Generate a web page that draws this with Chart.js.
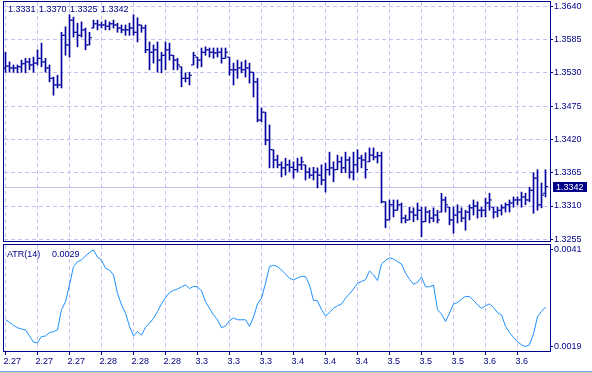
<!DOCTYPE html>
<html>
<head>
<meta charset="utf-8">
<script src="https://cdn.jsdelivr.net/npm/chart.js@4.4.0/dist/chart.umd.min.js"></script>
<style>
  html, body { margin: 0; padding: 0; background: #fff; }
  #wrap { position: relative; width: 592px; height: 373px; overflow: hidden; }
  canvas { position: absolute; left: 0; }
  #priceCanvas { top: 0; }
  #atrCanvas { top: 243px; }
</style>
</head>
<body>
<div id="wrap">
  <canvas id="priceCanvas" width="592" height="243"></canvas>
  <canvas id="atrCanvas" width="592" height="130"></canvas>
</div>
<script>
// Time axis: labels every 8 bars
const dateLabels = ['2.27','2.27','2.27','2.28','2.28','2.28','3.3','3.3','3.3','3.4','3.4','3.4','3.5','3.5','3.5','3.6','3.6'];
const dateTickBars = [0, 8, 16, 24, 32, 40, 48, 56, 64, 72, 80, 88, 96, 104, 112, 120, 128];

// Price scale and ATR scale ticks
const priceTicks = [1.3640, 1.3585, 1.3530, 1.3475, 1.3420, 1.3365, 1.3310, 1.3255];
const atrTicks = [0.0041, 0.0019];
const atrTitle = 'ATR(14)';
const atrValueText = '0.0029';

// OHLC bars
const opens = [
  1.3538,1.3541,1.3538,1.3538,1.3540,1.3545,1.3548,1.3543,1.3546,1.3554,
  1.3548,1.3538,1.3521,1.3510,1.3510,1.3592,1.3576,1.3617,1.3597,1.3592,
  1.3601,1.3576,1.3604,1.3611,1.3609,1.3609,1.3607,1.3611,1.3609,1.3604,
  1.3601,1.3601,1.3604,1.3597,1.3609,1.3604,1.3568,1.3564,1.3568,1.3551,
  1.3559,1.3568,1.3559,1.3551,1.3540,1.3521,1.3521,1.3543,1.3556,1.3551,
  1.3564,1.3568,1.3564,1.3563,1.3564,1.3554,1.3556,1.3535,1.3535,1.3538,
  1.3535,1.3538,1.3531,1.3515,1.3452,1.3465,1.3419,1.3403,1.3386,1.3378,
  1.3373,1.3378,1.3374,1.3370,1.3378,1.3378,1.3366,1.3361,1.3366,1.3361,
  1.3353,1.3370,1.3373,1.3370,1.3383,1.3373,1.3386,1.3366,1.3378,1.3389,
  1.3386,1.3383,1.3394,1.3391,1.3393,1.3317,1.3287,1.3312,1.3303,1.3312,
  1.3290,1.3287,1.3300,1.3295,1.3303,1.3284,1.3300,1.3290,1.3295,1.3300,
  1.3320,1.3308,1.3287,1.3295,1.3300,1.3290,1.3300,1.3307,1.3310,1.3303,
  1.3303,1.3315,1.3308,1.3300,1.3303,1.3307,1.3312,1.3315,1.3320,1.3320,
  1.3325,1.3320,1.3336,1.3356,1.3312,1.3331];
const highs = [
  1.3564,1.3548,1.3543,1.3543,1.3551,1.3554,1.3554,1.3556,1.3568,1.3579,
  1.3554,1.3543,1.3523,1.3526,1.3597,1.3606,1.3626,1.3622,1.3612,1.3614,
  1.3604,1.3597,1.3617,1.3617,1.3614,1.3617,1.3614,1.3617,1.3612,1.3609,
  1.3609,1.3612,1.3626,1.3621,1.3609,1.3609,1.3581,1.3576,1.3581,1.3564,
  1.3581,1.3579,1.3559,1.3554,1.3540,1.3530,1.3531,1.3564,1.3556,1.3571,
  1.3573,1.3571,1.3571,1.3571,1.3571,1.3571,1.3556,1.3546,1.3551,1.3548,
  1.3551,1.3546,1.3531,1.3521,1.3472,1.3465,1.3444,1.3403,1.3394,1.3383,
  1.3389,1.3386,1.3383,1.3389,1.3391,1.3378,1.3373,1.3374,1.3373,1.3378,
  1.3381,1.3399,1.3383,1.3394,1.3391,1.3399,1.3391,1.3399,1.3403,1.3394,
  1.3398,1.3406,1.3406,1.3399,1.3399,1.3317,1.3320,1.3320,1.3320,1.3315,
  1.3295,1.3308,1.3307,1.3315,1.3308,1.3308,1.3303,1.3307,1.3303,1.3331,
  1.3325,1.3308,1.3308,1.3312,1.3307,1.3303,1.3312,1.3320,1.3317,1.3308,
  1.3323,1.3331,1.3308,1.3308,1.3312,1.3315,1.3320,1.3325,1.3325,1.3333,
  1.3331,1.3341,1.3365,1.3370,1.3348,1.3370];
const lows = [
  1.3531,1.3531,1.3531,1.3530,1.3531,1.3530,1.3535,1.3531,1.3543,1.3540,
  1.3531,1.3515,1.3493,1.3505,1.3505,1.3559,1.3556,1.3589,1.3573,1.3589,
  1.3568,1.3576,1.3604,1.3601,1.3604,1.3601,1.3601,1.3604,1.3597,1.3596,
  1.3592,1.3592,1.3592,1.3581,1.3597,1.3563,1.3535,1.3546,1.3531,1.3530,
  1.3535,1.3551,1.3535,1.3535,1.3507,1.3515,1.3510,1.3543,1.3538,1.3540,
  1.3559,1.3556,1.3554,1.3556,1.3546,1.3554,1.3526,1.3510,1.3521,1.3530,
  1.3523,1.3513,1.3490,1.3449,1.3449,1.3411,1.3373,1.3373,1.3373,1.3358,
  1.3361,1.3366,1.3356,1.3366,1.3370,1.3353,1.3356,1.3353,1.3340,1.3345,
  1.3333,1.3361,1.3350,1.3370,1.3365,1.3365,1.3356,1.3353,1.3366,1.3373,
  1.3356,1.3383,1.3386,1.3381,1.3315,1.3274,1.3287,1.3292,1.3303,1.3282,
  1.3282,1.3287,1.3284,1.3287,1.3259,1.3284,1.3282,1.3284,1.3282,1.3300,
  1.3300,1.3279,1.3265,1.3282,1.3284,1.3270,1.3287,1.3295,1.3290,1.3292,
  1.3292,1.3303,1.3290,1.3292,1.3295,1.3300,1.3300,1.3308,1.3312,1.3308,
  1.3312,1.3317,1.3298,1.3303,1.3307,1.3325];
const closes = [
  1.3541,1.3538,1.3538,1.3540,1.3545,1.3548,1.3543,1.3546,1.3554,1.3548,
  1.3538,1.3521,1.3510,1.3510,1.3592,1.3576,1.3617,1.3597,1.3592,1.3601,
  1.3576,1.3588,1.3611,1.3609,1.3609,1.3607,1.3611,1.3609,1.3604,1.3601,
  1.3601,1.3604,1.3597,1.3609,1.3604,1.3568,1.3564,1.3568,1.3551,1.3559,
  1.3568,1.3559,1.3551,1.3543,1.3521,1.3521,1.3526,1.3559,1.3551,1.3564,
  1.3568,1.3564,1.3563,1.3564,1.3554,1.3564,1.3535,1.3535,1.3538,1.3535,
  1.3538,1.3531,1.3515,1.3452,1.3465,1.3419,1.3403,1.3386,1.3378,1.3373,
  1.3378,1.3374,1.3370,1.3378,1.3383,1.3366,1.3361,1.3366,1.3361,1.3353,
  1.3370,1.3373,1.3370,1.3383,1.3373,1.3386,1.3366,1.3378,1.3389,1.3386,
  1.3370,1.3394,1.3391,1.3393,1.3317,1.3287,1.3312,1.3303,1.3312,1.3290,
  1.3287,1.3300,1.3295,1.3303,1.3284,1.3300,1.3290,1.3295,1.3287,1.3320,
  1.3312,1.3287,1.3295,1.3300,1.3290,1.3300,1.3307,1.3310,1.3303,1.3303,
  1.3315,1.3320,1.3300,1.3303,1.3307,1.3312,1.3315,1.3320,1.3320,1.3325,
  1.3320,1.3336,1.3356,1.3312,1.3328,1.3342];

// ATR(14) values per bar
const atr = [
  0.00251,0.00245,0.00238,0.00233,0.00230,0.00228,0.00214,0.00200,0.00199,0.00213,
  0.00214,0.00222,0.00224,0.00228,0.00274,0.00292,0.00330,0.00372,0.00383,0.00387,
  0.00396,0.00404,0.00410,0.00393,0.00387,0.00368,0.00364,0.00353,0.00311,0.00285,
  0.00266,0.00236,0.00214,0.00224,0.00216,0.00234,0.00243,0.00254,0.00270,0.00287,
  0.00301,0.00313,0.00318,0.00321,0.00326,0.00330,0.00322,0.00327,0.00326,0.00317,
  0.00292,0.00277,0.00262,0.00251,0.00233,0.00237,0.00249,0.00255,0.00251,0.00251,
  0.00251,0.00236,0.00257,0.00287,0.00300,0.00334,0.00372,0.00375,0.00372,0.00364,
  0.00355,0.00345,0.00342,0.00346,0.00350,0.00349,0.00330,0.00295,0.00294,0.00274,
  0.00260,0.00267,0.00277,0.00283,0.00287,0.00300,0.00310,0.00321,0.00334,0.00338,
  0.00342,0.00362,0.00353,0.00340,0.00378,0.00386,0.00392,0.00389,0.00383,0.00378,
  0.00357,0.00343,0.00332,0.00336,0.00348,0.00326,0.00326,0.00330,0.00274,0.00264,
  0.00247,0.00266,0.00287,0.00290,0.00298,0.00304,0.00304,0.00295,0.00285,0.00277,
  0.00283,0.00287,0.00279,0.00267,0.00262,0.00236,0.00222,0.00211,0.00201,0.00194,
  0.00190,0.00194,0.00219,0.00258,0.00270,0.00280];

const navy = '#000088';
const barBlue = '#0000a0';
const gridLav = '#c4c4f2';
const priceLineColor = '#c0c0f0';
const atrBlue = '#1e90ff';
const fontFamily = "'Liberation Sans', Arial, sans-serif";

Chart.defaults.font.family = fontFamily;
Chart.defaults.font.size = 9;
Chart.defaults.color = navy;

// replace generated ticks with a fixed list
function fixTicks(values) {
  return scale => { scale.ticks = values.map(v => ({ value: v })); };
}
// stop tick labels from pushing the plot area around
function noPad(scale) {
  scale.paddingTop = 0; scale.paddingBottom = 0;
  scale.paddingLeft = 0; scale.paddingRight = 0;
}

// 4 px per bar, bar centres on half pixels so 1px lines stay crisp
function timeScale(showLabels) {
  return {
    type: 'linear', min: -0.375, max: 136.125, offset: false,
    afterBuildTicks: fixTicks(dateTickBars),
    afterFit: s => { noPad(s); s.height = showLabels ? 22 : 0; },
    grid: { offset: false, color: gridLav, borderDash: [4, 3], drawTicks: showLabels,
            tickLength: 4, tickColor: navy, tickBorderDash: [] },
    border: { display: false, dash: [4, 3] },
    ticks: { display: showLabels, align: 'start', labelOffset: -2, padding: 1,
             maxRotation: 0, autoSkip: false, color: navy,
             callback: (v, i) => dateLabels[i] }
  };
}

const lastIdx = closes.length - 1;

const priceDecor = {
  id: 'priceDecor',
  beforeDatasetsDraw(chart) {
    const { ctx, chartArea: a, scales: { y } } = chart;
    const py = Math.round(y.getPixelForValue(closes[lastIdx])) + 0.5;
    ctx.save();
    ctx.strokeStyle = priceLineColor;
    ctx.lineWidth = 1;
    ctx.beginPath(); ctx.moveTo(a.left, py); ctx.lineTo(a.right, py); ctx.stroke();
    ctx.restore();
  },
  afterDraw(chart) {
    const { ctx, chartArea: a, scales: { y } } = chart;
    ctx.save();
    ctx.strokeStyle = navy;
    ctx.lineWidth = 1;
    ctx.strokeRect(a.left - 0.5, a.top - 0.5, a.right - a.left + 1, a.bottom - a.top + 1);

    // current price tag
    const py = Math.round(y.getPixelForValue(closes[lastIdx])) + 0.5;
    ctx.fillStyle = navy;
    ctx.fillRect(553, py - 5.5, 34, 10);
    ctx.font = '9px ' + fontFamily;
    ctx.textBaseline = 'middle';
    ctx.textAlign = 'left';
    ctx.fillStyle = '#ffffff';
    ctx.fillText(closes[lastIdx].toFixed(4), 556, py);

    // OHLC of the last bar
    ctx.fillStyle = navy;
    const ohlc = [opens[lastIdx], highs[lastIdx], lows[lastIdx], closes[lastIdx]];
    ohlc.forEach((v, k) => ctx.fillText(v.toFixed(4), 8 + 31 * k, 9.5));
    ctx.restore();
  }
};

new Chart(document.getElementById('priceCanvas'), {
  type: 'bar',
  data: {
    datasets: [
      { type: 'bar', data: highs.map((h, i) => ({ x: i, y: [lows[i], h] })),
        backgroundColor: barBlue, borderWidth: 0, barThickness: 1 },
      { type: 'scatter', data: opens.map((v, i) => ({ x: i - 0.375, y: v })),
        pointStyle: 'line', pointRadius: 1, pointHoverRadius: 1,
        pointBorderColor: barBlue, pointBorderWidth: 1 },
      { type: 'scatter', data: closes.map((v, i) => ({ x: i + 0.375, y: v })),
        pointStyle: 'line', pointRadius: 1, pointHoverRadius: 1,
        pointBorderColor: barBlue, pointBorderWidth: 1 }
    ]
  },
  options: {
    responsive: false, animation: false, devicePixelRatio: 1,
    layout: { padding: { left: 4, top: 2, right: 0, bottom: 2 } },
    plugins: { legend: { display: false }, tooltip: { enabled: false } },
    scales: {
      x: timeScale(false),
      y: {
        type: 'linear', position: 'right', min: 1.32522, max: 1.36470,
        afterBuildTicks: fixTicks(priceTicks),
        afterFit: s => { noPad(s); s.width = 42; },
        grid: { color: gridLav, borderDash: [4, 3], tickLength: 3, tickColor: navy, tickBorderDash: [] },
        border: { display: false, dash: [4, 3] },
        ticks: { padding: 1, color: navy, callback: v => v.toFixed(4) }
      }
    }
  },
  plugins: [priceDecor]
});

const atrDecor = {
  id: 'atrDecor',
  afterDraw(chart) {
    const { ctx, chartArea: a } = chart;
    ctx.save();
    ctx.strokeStyle = navy;
    ctx.lineWidth = 1;
    ctx.strokeRect(a.left - 0.5, a.top - 0.5, a.right - a.left + 1, a.bottom - a.top + 1);
    ctx.font = '9px ' + fontFamily;
    ctx.textBaseline = 'middle';
    ctx.fillStyle = navy;
    ctx.fillText(atrTitle, 7, 12);
    ctx.fillText(atrValueText, 52, 12);
    // window edge at the bottom
    ctx.fillStyle = '#7ba0e6';
    ctx.fillRect(0, 128, 592, 1);
    ctx.fillStyle = '#d4d0c8';
    ctx.fillRect(0, 129, 592, 1);
    ctx.restore();
  }
};

new Chart(document.getElementById('atrCanvas'), {
  type: 'line',
  data: {
    datasets: [{
      data: atr.map((v, i) => ({ x: i, y: v })),
      borderColor: atrBlue, borderWidth: 1, pointRadius: 0, tension: 0, fill: false
    }]
  },
  options: {
    responsive: false, animation: false, devicePixelRatio: 1,
    layout: { padding: { left: 4, top: 2, right: 0, bottom: 0 } },
    plugins: { legend: { display: false }, tooltip: { enabled: false } },
    scales: {
      x: timeScale(true),
      y: {
        type: 'linear', position: 'right', min: 0.00180, max: 0.00421,
        afterBuildTicks: fixTicks(atrTicks),
        afterFit: s => { noPad(s); s.width = 42; },
        grid: { drawOnChartArea: false, tickLength: 3, tickColor: navy },
        border: { display: false },
        ticks: { padding: 1, color: navy, callback: v => v.toFixed(4) }
      }
    }
  },
  plugins: [atrDecor]
});
</script>
</body>
</html>
